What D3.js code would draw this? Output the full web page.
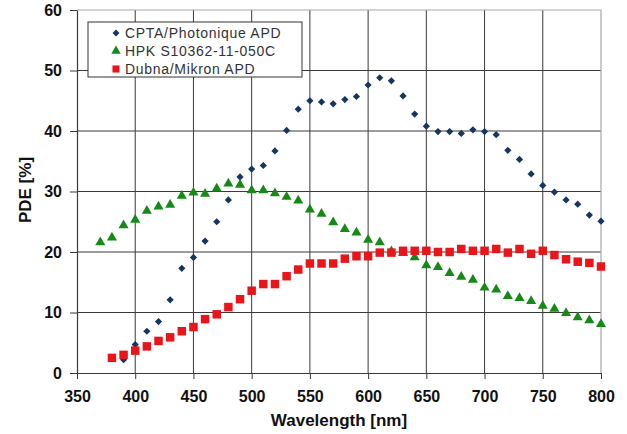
<!DOCTYPE html>
<html>
<head>
<meta charset="utf-8">
<script src="https://cdn.jsdelivr.net/npm/d3@7"></script>
<style>
  body { margin: 0; background: #fff; }
  text { font-family: Arial, "Liberation Sans", sans-serif; }
</style>
</head>
<body>
<svg id="chart" width="627" height="434"></svg>
<script>
// series
var cpta_wl  = [390,400,410,420,430,440,450,460,470,480,490,500,510,520,530,540,550,560,570,580,590,600,610,620,630,640,650,660,670,680,690,700,710,720,730,740,750,760,770,780,790,800];
var cpta_pde = [2.2,4.7,6.9,8.5,12.1,17.3,19.1,21.8,25.0,28.6,32.4,33.7,34.3,36.7,40.1,43.6,45.0,44.8,44.5,45.2,45.7,47.6,48.8,48.3,45.8,42.8,40.8,39.9,39.9,39.6,40.2,39.9,39.4,36.8,35.3,32.9,31.0,29.9,28.6,27.9,26.1,25.1];

var hpk_wl  = [370,380,390,400,410,420,430,440,450,460,470,480,490,500,510,520,530,540,550,560,570,580,590,600,610,620,630,640,650,660,670,680,690,700,710,720,730,740,750,760,770,780,790,800];
var hpk_pde = [21.6,22.4,24.4,25.3,26.8,27.5,27.8,29.3,29.8,29.6,30.5,31.3,31.1,30.2,30.2,29.7,29.1,28.5,27.0,26.3,24.9,23.8,23.2,22.0,21.6,20.1,19.8,19.1,17.8,17.5,16.5,15.9,15.4,14.1,13.8,12.7,12.4,11.9,11.1,10.6,9.9,9.2,8.7,8.1];

var dubna_wl  = [380,390,400,410,420,430,440,450,460,470,480,490,500,510,520,530,540,550,560,570,580,590,600,610,620,630,640,650,660,670,680,690,700,710,720,730,740,750,760,770,780,790,800];
var dubna_pde = [2.5,3.0,3.7,4.4,5.3,5.9,6.9,7.6,8.9,9.7,10.9,12.2,13.6,14.7,14.7,16.0,17.1,18.1,18.1,18.1,18.9,19.3,19.3,19.9,19.9,20.2,20.2,20.2,20.0,20.0,20.5,20.2,20.2,20.5,19.9,20.5,19.7,20.2,19.5,18.8,18.4,18.2,17.6];

var x_ticks = [350,400,450,500,550,600,650,700,750,800];
var y_ticks = [0,10,20,30,40,50,60];

var series_names = ["CPTA/Photonique APD", "HPK S10362-11-050C", "Dubna/Mikron APD"];
var series_colors = ["#14365f", "#168a16", "#e8151b"];

var svg = d3.select("#chart");
var plot_left = 77, plot_right = 601, plot_top = 10, plot_bottom = 373;

var x = d3.scaleLinear().domain([350, 800]).range([plot_left, plot_right]);
var y = d3.scaleLinear().domain([0, 60]).range([plot_bottom, plot_top]);

// grid
svg.append("g")
    .selectAll("line")
    .data(x_ticks.slice(1, -1))
    .enter()
    .append("line")
    .attr("x1", d => x(d)).attr("x2", d => x(d))
    .attr("y1", plot_top).attr("y2", plot_bottom)
    .attr("stroke", "#3a3a3a").attr("stroke-width", 1);
svg.append("g")
    .selectAll("line")
    .data(y_ticks.slice(1, -1))
    .enter()
    .append("line")
    .attr("x1", plot_left).attr("x2", plot_right)
    .attr("y1", d => y(d)).attr("y2", d => y(d))
    .attr("stroke", "#3a3a3a").attr("stroke-width", 1);

// light frame top / right
svg.append("path")
    .attr("d", `M${plot_left},${plot_top}H${plot_right}V${plot_bottom}`)
    .attr("fill", "none").attr("stroke", "#a8a8a8").attr("stroke-width", 1.2);

var xAxis = svg.append("g")
    .attr("transform", `translate(0,${plot_bottom})`)
    .call(d3.axisBottom(x).tickValues(x_ticks).tickSize(6).tickSizeOuter(0).tickPadding(12));
var yAxis = svg.append("g")
    .attr("transform", `translate(${plot_left},0)`)
    .call(d3.axisLeft(y).tickValues(y_ticks).tickSize(7).tickSizeOuter(0).tickPadding(8));

[xAxis, yAxis].forEach(function(ax){
    ax.select(".domain").attr("stroke", "#3a3a3a").attr("stroke-width", 1.2);
    ax.selectAll(".tick line").attr("stroke", "#3a3a3a");
    ax.selectAll(".tick text")
        .attr("fill", "#111")
        .style("font-size", "16px")
        .style("font-weight", "bold");
});

// axis titles
svg.append("text")
    .attr("x", 339).attr("y", 426)
    .attr("text-anchor", "middle")
    .style("font-size", "17px").style("font-weight", "bold")
    .attr("fill", "#111")
    .text("Wavelength [nm]");
svg.append("text")
    .attr("transform", "translate(31,190) rotate(-90)")
    .attr("text-anchor", "middle")
    .style("font-size", "17px").style("font-weight", "bold")
    .attr("fill", "#111")
    .text("PDE [%]");

// markers
var diamond = d3.symbol().type(d3.symbolSquare).size(26);
var triangle = d3.symbol().type(d3.symbolTriangle).size(44);
var square = d3.symbol().type(d3.symbolSquare).size(72);

svg.append("g").selectAll("path")
    .data(d3.zip(cpta_wl, cpta_pde))
    .enter()
    .append("path")
    .attr("d", diamond)
    .attr("transform", d => `translate(${x(d[0])},${y(d[1])}) rotate(45)`)
    .attr("fill", series_colors[0]);

svg.append("g").selectAll("path")
    .data(d3.zip(hpk_wl, hpk_pde))
    .enter()
    .append("path")
    .attr("d", triangle)
    .attr("transform", d => `translate(${x(d[0])},${y(d[1])})`)
    .attr("fill", series_colors[1]);

svg.append("g").selectAll("path")
    .data(d3.zip(dubna_wl, dubna_pde))
    .enter()
    .append("path")
    .attr("d", square)
    .attr("transform", d => `translate(${x(d[0])},${y(d[1])})`)
    .attr("fill", series_colors[2]);

// legend
var legend = svg.append("g");
legend.append("rect")
    .attr("x", 88).attr("y", 22).attr("width", 214).attr("height", 55)
    .attr("fill", "#fff").attr("stroke", "#333").attr("stroke-width", 1);

var legend_symbols = [
    d3.symbol().type(d3.symbolSquare).size(24),
    d3.symbol().type(d3.symbolTriangle).size(38),
    d3.symbol().type(d3.symbolSquare).size(50)
];
series_names.forEach(function(name, i){
    var ly = 33 + i * 18;
    legend.append("path")
        .attr("d", legend_symbols[i])
        .attr("transform", `translate(116,${ly})` + (i == 0 ? " rotate(45)" : ""))
        .attr("fill", series_colors[i]);
    legend.append("text")
        .attr("x", 125).attr("y", ly + 5)
        .style("font-size", "14px")
        .style("letter-spacing", "0.7px")
        .attr("fill", "#333")
        .text(name);
});
</script>
</body>
</html>
